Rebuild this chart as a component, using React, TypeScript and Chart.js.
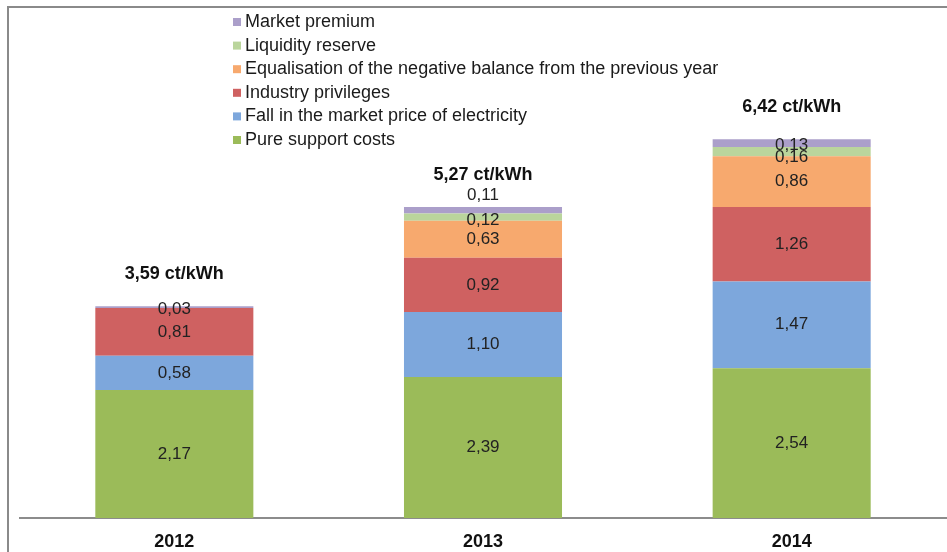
import React, { useEffect, useRef } from 'react';
import { Chart, registerables } from 'chart.js';

Chart.register(...registerables);

const years = ['2012', '2013', '2014'];

// ct/kWh per component, bottom to top
const pureSupport = [2.17, 2.39, 2.54];
const marketFall = [0.58, 1.10, 1.47];
const industry = [0.81, 0.92, 1.26];
const equalisation = [0, 0.63, 0.86];
const liquidity = [0, 0.12, 0.16];
const marketPremium = [0.03, 0.11, 0.13];

const seriesNames = [
  'Pure support costs',
  'Fall in the market price of electricity',
  'Industry privileges',
  'Equalisation of the negative balance from the previous year',
  'Liquidity reserve',
  'Market premium',
];
const seriesColors = ['#9bbb59', '#7da7dc', '#cf6161', '#f7a96e', '#bad59c', '#ab9fca'];

const FONT = '"Liberation Sans", Arial, sans-serif';

// nudges for labels of the thin segments, [dataset][year] -> px
const labelNudge: Record<string, number> = {
  '5-0': 2,
  '5-1': -15,
  '4-1': 3,
  '5-2': 2,
  '4-2': 6,
};

const fmt = (v: number) => v.toFixed(2).replace('.', ',');

const framePlugin = {
  id: 'frame',
  beforeDraw(chart: any) {
    const ctx = chart.ctx;
    ctx.save();
    ctx.strokeStyle = '#8a8a8a';
    ctx.lineWidth = 2;
    ctx.beginPath();
    ctx.moveTo(8, chart.height);
    ctx.lineTo(8, 7);
    ctx.lineTo(chart.width, 7);
    ctx.stroke();
    ctx.restore();
  },
};

const labelsPlugin = {
  id: 'segLabels',
  afterDatasetsDraw(chart: any) {
    const ctx = chart.ctx;
    ctx.save();
    ctx.textAlign = 'center';
    ctx.textBaseline = 'middle';
    ctx.fillStyle = '#222';
    ctx.font = `17px ${FONT}`;
    chart.data.datasets.forEach((ds: any, i: number) => {
      const meta = chart.getDatasetMeta(i);
      meta.data.forEach((el: any, j: number) => {
        const v = ds.data[j];
        if (!v) return;
        const y = (el.y + el.base) / 2 + (labelNudge[`${i}-${j}`] || 0);
        ctx.fillText(fmt(v), el.x, y);
      });
    });
    // totals above bars
    ctx.font = `bold 18px ${FONT}`;
    ctx.fillStyle = '#111';
    const last = chart.getDatasetMeta(chart.data.datasets.length - 1);
    years.forEach((_, j) => {
      let total = 0;
      chart.data.datasets.forEach((ds: any) => (total += ds.data[j]));
      const el = last.data[j];
      ctx.fillText(`${fmt(total)} ct/kWh`, el.x, el.y - 32);
    });
    ctx.restore();
  },
};

const legendPlugin = {
  id: 'sideLegend',
  afterDraw(chart: any) {
    const ctx = chart.ctx;
    ctx.save();
    ctx.font = `18px ${FONT}`;
    ctx.textBaseline = 'middle';
    ctx.textAlign = 'left';
    const n = chart.data.datasets.length;
    for (let k = 0; k < n; k++) {
      const ds = chart.data.datasets[n - 1 - k];
      const y = 22 + k * 23.6;
      ctx.fillStyle = ds.backgroundColor;
      ctx.fillRect(233, y - 4, 8, 8);
      ctx.fillStyle = '#1a1a1a';
      ctx.fillText(ds.label, 245, y);
    }
    ctx.restore();
  },
};

const App = () => {
  const canvasRef = useRef<HTMLCanvasElement>(null);
  const chartRef = useRef<Chart | null>(null);

  useEffect(() => {
    document.body.style.margin = '0';
    if (!canvasRef.current) return;
    const values = [pureSupport, marketFall, industry, equalisation, liquidity, marketPremium];
    chartRef.current = new Chart(canvasRef.current, {
      type: 'bar',
      data: {
        labels: years,
        datasets: values.map((data, i) => ({
          label: seriesNames[i],
          data,
          backgroundColor: seriesColors[i],
          borderWidth: 0,
          categoryPercentage: 1,
          barPercentage: 0.512,
        })),
      },
      options: {
        animation: false,
        responsive: true,
        maintainAspectRatio: false,
        layout: { padding: { left: 20, right: 1, top: 0, bottom: 0 } },
        plugins: {
          legend: { display: false },
          tooltip: { enabled: false },
        },
        scales: {
          x: {
            stacked: true,
            grid: { display: false, drawTicks: false },
            border: { display: true, color: '#8c8c8c', width: 2 },
            afterFit: (scale: any) => {
              scale.height = 34;
            },
            ticks: {
              padding: 13,
              color: '#111',
              font: { family: FONT, size: 18, weight: 'bold' },
            },
          },
          y: {
            stacked: true,
            display: false,
            min: 0,
            max: 8.78,
          },
        },
      },
      plugins: [framePlugin, labelsPlugin, legendPlugin],
    });
    return () => {
      chartRef.current?.destroy();
    };
  }, []);

  return (
    <div style={{ width: 947, height: 552, position: 'relative' }}>
      <canvas ref={canvasRef}></canvas>
    </div>
  );
};

export default App;
